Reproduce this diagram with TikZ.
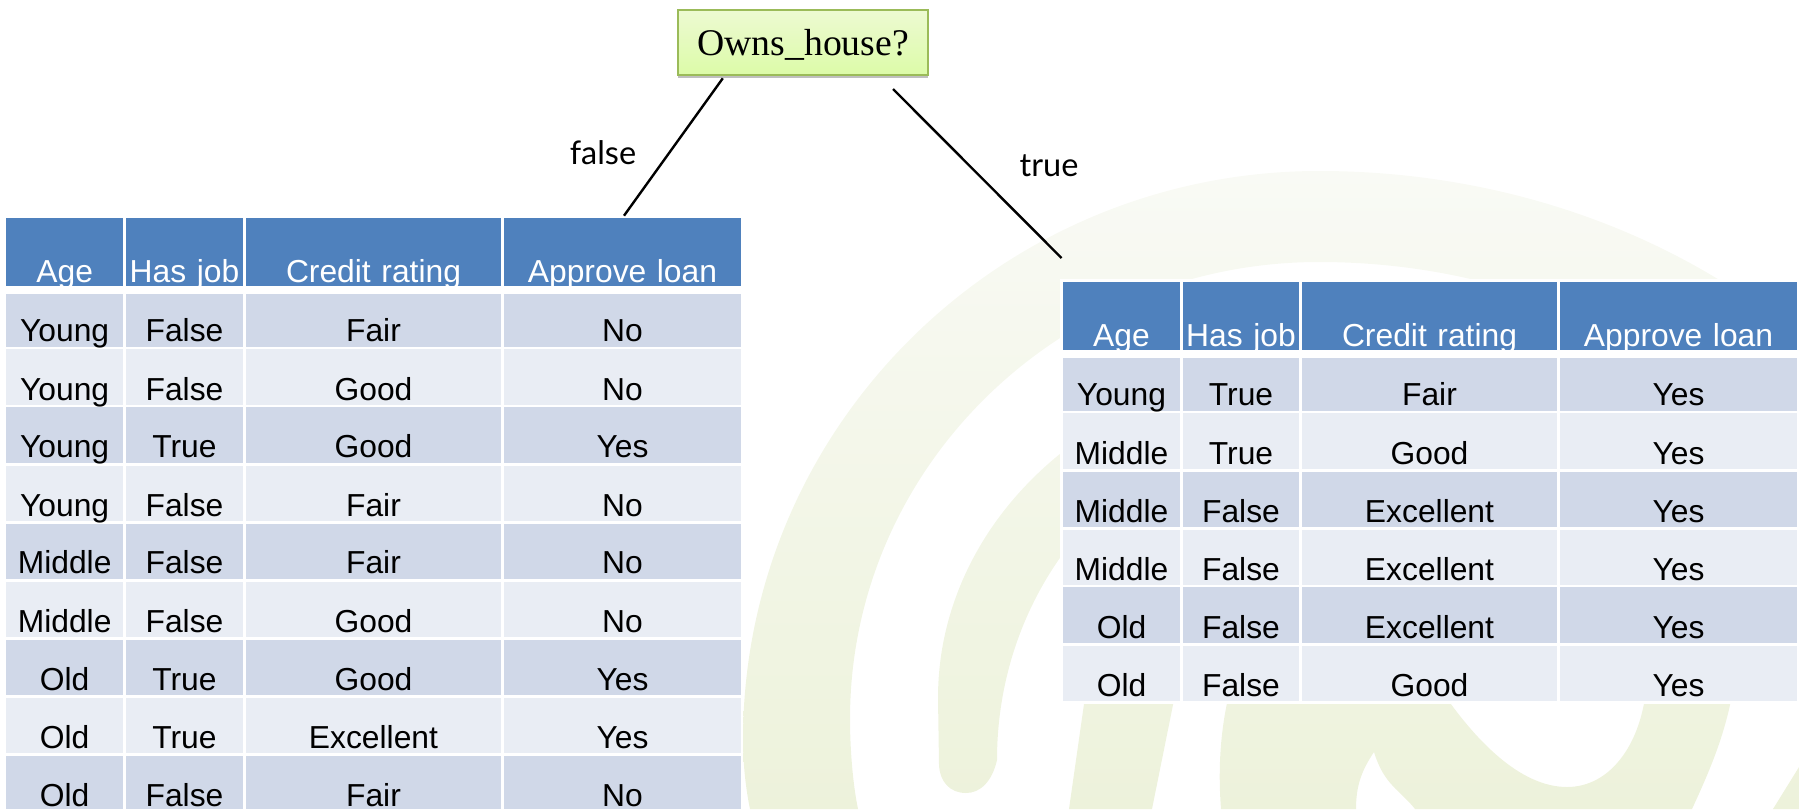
\documentclass[tikz,border=0pt]{standalone}
\usepackage{fontspec}
\setmainfont{Liberation Sans}
\newfontfamily\rootfont{Liberation Serif}
\newfontfamily\edgefont{Lato}
\usetikzlibrary{shadows}
\definecolor{headblue}{HTML}{4F81BD}
\definecolor{rowdark}{HTML}{D0D8E8}
\definecolor{rowlight}{HTML}{E9EDF4}
\definecolor{markhi}{HTML}{F9FAF5}
\definecolor{marklo}{HTML}{EDF2DB}
\definecolor{rootline}{HTML}{9BBB59}
\definecolor{roottop}{HTML}{EDFAD2}
\definecolor{rootbot}{HTML}{DCFBA8}
\tikzset{
  cellbase/.style={anchor=north west,inner sep=0pt,outer sep=0pt,align=center,
    font=\fontsize{31.8}{36}\selectfont},
  headcell/.style={cellbase,fill=headblue,text=white},
  darkcell/.style={cellbase,fill=rowdark,text=black},
  lightcell/.style={cellbase,fill=rowlight,text=black},
  edgelabel/.style={anchor=base,inner sep=0pt,font=\edgefont\fontsize{32.5}{38}\selectfont},
  edgeline/.style={line width=2.4pt,black},
  rootbox/.style={anchor=north west,inner sep=0pt,align=center,draw=rootline,line width=2.2pt,
    top color=roottop,bottom color=rootbot,
    drop shadow={shadow xshift=0pt,shadow yshift=-3pt,opacity=.25,fill=black},
    font=\rootfont\fontsize{37.7}{42}\selectfont,
    text width=250pt,text height=46pt,text depth=19pt}
}
% name, x0, x1, top, bottom, baseline, style, text
\newcommand\tcell[8]{%
  \pgfmathsetlengthmacro\cellw{(#3-#2)*1pt}%
  \pgfmathsetlengthmacro\cellh{(#6+0.7-#4)*1pt}%
  \pgfmathsetlengthmacro\celld{(#5-#6-0.7)*1pt}%
  \node[#7,text width=\cellw,text height=\cellh,text depth=\celld] (#1) at (#2,#4) {#8};}
\newcommand\rowL[9]{%
  \tcell{#1a}{6.3}{123}{#2}{#3}{#4}{#5}{#6}
  \tcell{#1b}{126}{243}{#2}{#3}{#4}{#5}{#7}
  \tcell{#1c}{246}{501}{#2}{#3}{#4}{#5}{#8}
  \tcell{#1d}{504}{741}{#2}{#3}{#4}{#5}{#9}}
\newcommand\rowR[9]{%
  \tcell{#1a}{1063}{1180}{#2}{#3}{#4}{#5}{#6}
  \tcell{#1b}{1183}{1299}{#2}{#3}{#4}{#5}{#7}
  \tcell{#1c}{1302}{1557}{#2}{#3}{#4}{#5}{#8}
  \tcell{#1d}{1560}{1797}{#2}{#3}{#4}{#5}{#9}}
\begin{document}
\begin{tikzpicture}[x=1pt,y=-1pt]
\useasboundingbox (0,0) rectangle (1799,809);
% pale watermark
\path[top color=markhi,bottom color=marklo,shading angle=0]
  (750,809) .. controls (746,790) and (743,765) .. (743,740)
  .. controls (743,426) and (1001,171) .. (1319,171)
  .. controls (1695,171) and (1999,426) .. (1999,740)
  -- (1878,719)
  .. controls (1878,467) and (1628,262) .. (1319,262)
  .. controls (1060,262) and (850,467) .. (850,719)
  .. controls (850,750) and (853,785) .. (858,809) -- cycle
  (939,765) -- (938,698)
  .. controls (938,514) and (1109,365) .. (1319,365)
  -- (1319,420)
  .. controls (1141,420) and (997,572) .. (997,760)
  .. controls (992,782) and (980,793) .. (966,793)
  .. controls (950,793) and (940,782) .. (939,765) -- cycle
  (1086,690) -- (1176,690) -- (1152,809) -- (1069,809) -- cycle
  (1230,690) .. controls (1220,730) and (1218,770) .. (1221,809)
  -- (1356,809)
  .. controls (1356,785) and (1362,770) .. (1374,752)
  .. controls (1384,785) and (1400,790) .. (1415,809)
  -- (1692,809)
  .. controls (1710,770) and (1725,735) .. (1733,690)
  -- (1646,690)
  .. controls (1640,745) and (1610,787) .. (1567,787)
  .. controls (1520,787) and (1475,740) .. (1441,690) -- cycle
  (1799,767) -- (1773,809) -- (1799,809) -- cycle;
\fill[white] (1060,279) rectangle (1799,704);
% root
\node[rootbox] (root) at (677,8.7) {Owns\_house?};
% left table
\rowL{Lh}{218}{286}{282}{headcell}{Age}{Has job}{Credit rating}{Approve loan}
\rowL{La}{294}{347}{341}{darkcell}{Young}{False}{Fair}{No}
\rowL{Lb}{349}{405}{399.5}{lightcell}{Young}{False}{Good}{No}
\rowL{Lc}{407}{463}{457}{darkcell}{Young}{True}{Good}{Yes}
\rowL{Ld}{465.5}{521}{515.5}{lightcell}{Young}{False}{Fair}{No}
\rowL{Le}{523.5}{579}{573}{darkcell}{Middle}{False}{Fair}{No}
\rowL{Lf}{582}{637}{632}{lightcell}{Middle}{False}{Good}{No}
\rowL{Lg}{640}{695}{690}{darkcell}{Old}{True}{Good}{Yes}
\rowL{Li}{698}{753}{747.5}{lightcell}{Old}{True}{Excellent}{Yes}
\rowL{Lj}{756}{809}{805.5}{darkcell}{Old}{False}{Fair}{No}
% right table
\rowR{Rh}{282}{350}{346}{headcell}{Age}{Has job}{Credit rating}{Approve loan}
\rowR{Ra}{358}{410.5}{405}{darkcell}{Young}{True}{Fair}{Yes}
\rowR{Rb}{413}{469}{464}{lightcell}{Middle}{True}{Good}{Yes}
\rowR{Rc}{472}{527}{522}{darkcell}{Middle}{False}{Excellent}{Yes}
\rowR{Rd}{529.5}{585}{580}{lightcell}{Middle}{False}{Excellent}{Yes}
\rowR{Re}{587}{643}{638}{darkcell}{Old}{False}{Excellent}{Yes}
\rowR{Rf}{646}{701}{696}{lightcell}{Old}{False}{Good}{Yes}
% connectors
\coordinate (falsetop) at (722.8,78.3);
\coordinate (falseend) at (624,215.7);
\coordinate (truetop) at (893,89);
\coordinate (trueend) at (1061.5,258);
\draw[edgeline] (falsetop) -- (falseend);
\draw[edgeline] (truetop) -- (trueend);
\node[edgelabel] (lfalse) at (603,164) {false};
\node[edgelabel] (ltrue) at (1049,176.7) {true};
\end{tikzpicture}
\end{document}
